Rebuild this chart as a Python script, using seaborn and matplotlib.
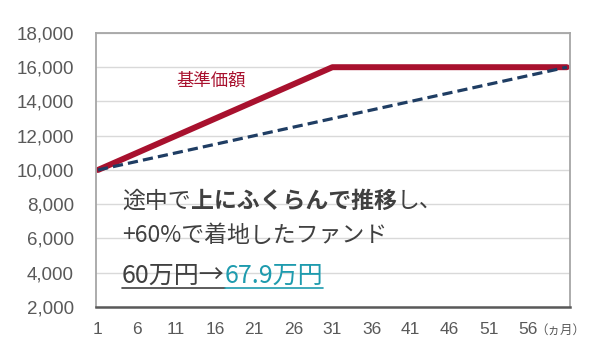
import pandas as pd
import seaborn as sns
import matplotlib.pyplot as plt
from matplotlib.lines import Line2D

# data
nav_month = [1, 31, 61]
nav_value = [10000, 16000, 16000]
straight_month = [1, 61]
straight_value = [10000, 16000]
xticks = [1, 6, 11, 16, 21, 26, 31, 36, 41, 46, 51, 56]
yticks = [2000, 4000, 6000, 8000, 10000, 12000, 14000, 16000, 18000]

sns.set_style('white')
plt.rcParams['font.family'] = ['Liberation Sans', 'Noto Sans CJK JP', 'DejaVu Sans']

fig = plt.figure(figsize=(6, 3.58), dpi=100)
ax = fig.add_axes([0.16, 0.1425, 0.79, 0.7655])

df_nav = pd.DataFrame({'month': nav_month, 'value': nav_value})
df_str = pd.DataFrame({'month': straight_month, 'value': straight_value})

sns.lineplot(data=df_str, x='month', y='value', ax=ax, color='#1f3d63',
             linewidth=2.3, linestyle=(0, (3.2, 1.6)), zorder=3)
sns.lineplot(data=df_nav, x='month', y='value', ax=ax, color='#a8112e',
             linewidth=4.3, solid_capstyle='round', zorder=2)

ax.set_xlim(0.75, 61.4)
ax.set_ylim(2000, 18000)
ax.set_xticks(xticks)
ax.set_yticks(yticks)
ax.set_yticklabels([f'{v:,}' for v in yticks])
ax.set_xlabel('')
ax.set_ylabel('')
ax.grid(axis='y', color='#d9d9d9', linewidth=1)
ax.tick_params(axis='y', length=0, pad=16, labelsize=13.5, labelcolor='#595959')
ax.tick_params(axis='x', length=0, pad=11, labelsize=12.5, labelcolor='#595959')

for side in ['left', 'top', 'right']:
    ax.spines[side].set_color('#a6a6a6')
    ax.spines[side].set_linewidth(1.3)
ax.spines['bottom'].set_color('#595959')
ax.spines['bottom'].set_linewidth(1.8)

ax.text(60.2, -0.085, '（ヵ月）', transform=ax.get_xaxis_transform(),
        ha='center', va='center', fontsize=9, color='#595959',
        family=['Noto Sans CJK JP'])

ax.text(0.17, 0.827, '基準価額', transform=ax.transAxes, fontsize=12.5,
        color='#a8112e', family=['Noto Sans CJK JP'], va='center')


def chain(parts, x, y, size):
    # place text pieces one after another on the same line
    first = None
    prev = None
    for txt, color, weight in parts:
        if prev is None:
            prev = ax.text(x, y, txt, transform=ax.transAxes, fontsize=size,
                           color=color, weight=weight, va='bottom',
                           family=['Noto Sans CJK JP'])
            first = prev
        else:
            prev = ax.annotate(txt, xy=(1, 0), xycoords=prev, fontsize=size,
                               color=color, weight=weight, va='bottom',
                               ha='left', family=['Noto Sans CJK JP'])
    return first, prev


body = '#404040'
chain([('途中で', body, 'normal'), ('上にふくらんで推移', body, 'bold'),
       ('し、', body, 'normal')], 0.055, 0.345, 16.5)
chain([('+60%で着地したファンド', body, 'normal')], 0.055, 0.218, 16.5)
t0, t1 = chain([('60万円→', body, 'normal'), ('67.9万円', '#1e9bae', 'normal')],
               0.055, 0.066, 18)

fig.canvas.draw()
b0 = t0.get_window_extent()
b1 = t1.get_window_extent()
W, H = fig.bbox.width, fig.bbox.height
uy = (b0.y0 + 1) / H
fig.add_artist(Line2D([b0.x0 / W, b0.x1 / W], [uy, uy], color=body, linewidth=1.2))
fig.add_artist(Line2D([b1.x0 / W, b1.x1 / W], [uy, uy], color='#1e9bae', linewidth=1.2))

plt.savefig('out.png', dpi=100)
